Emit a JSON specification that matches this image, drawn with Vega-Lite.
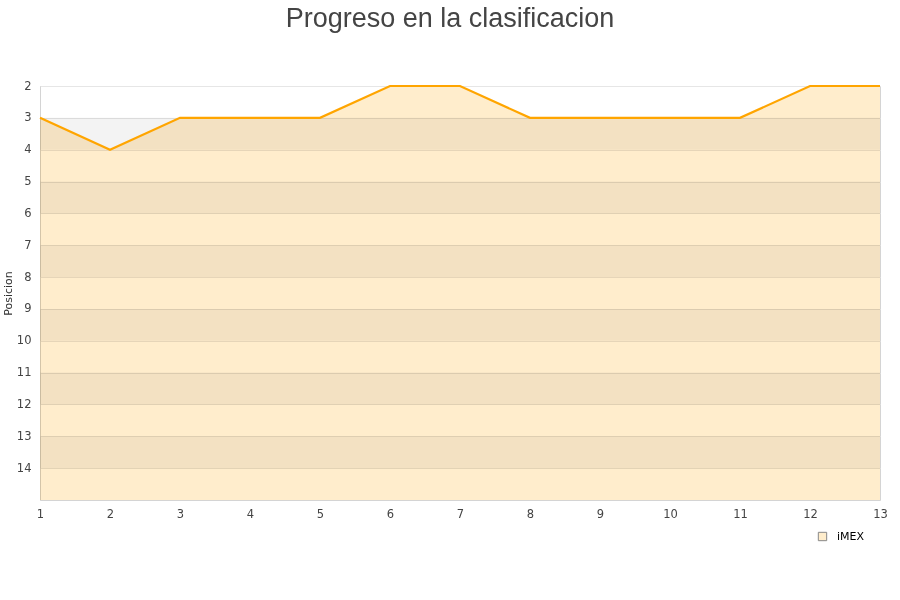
{
  "$schema": "https://vega.github.io/schema/vega-lite/v6.json",
  "width": 840,
  "height": 414,
  "autosize": "none",
  "padding": {"left": 40, "top": 86, "right": 20, "bottom": 100},
  "background": "white",
  "config": {
    "font": "DejaVu Sans",
    "view": {"stroke": "#d4d4d4", "strokeWidth": 1},
    "axis": {"labelFont": "DejaVu Sans", "labelFontSize": 11.5, "labelColor": "#444", "titleFont": "DejaVu Sans", "titleFontSize": 11, "titleFontWeight": "normal", "titleColor": "#333", "domainColor": "#d4d4d4", "gridColor": "#e6e6e6", "ticks": false, "labelOverlap": false, "labelFlush": false, "zindex": 0}
  },
  "title": {"text": "Progreso en la clasificacion", "font": "Liberation Sans", "fontSize": 27, "fontWeight": "normal", "color": "#444", "anchor": "middle", "dx": -10, "offset": 47},
  "datasets": {
    "bands": [
      {"b0": 3, "b1": 4}, {"b0": 5, "b1": 6}, {"b0": 7, "b1": 8},
      {"b0": 9, "b1": 10}, {"b0": 11, "b1": 12}, {"b0": 13, "b1": 14}
    ],
    "serie": [
      {"jornada": 1, "pos": 3, "equipo": "iMEX"},
      {"jornada": 2, "pos": 4, "equipo": "iMEX"},
      {"jornada": 3, "pos": 3, "equipo": "iMEX"},
      {"jornada": 4, "pos": 3, "equipo": "iMEX"},
      {"jornada": 5, "pos": 3, "equipo": "iMEX"},
      {"jornada": 6, "pos": 2, "equipo": "iMEX"},
      {"jornada": 7, "pos": 2, "equipo": "iMEX"},
      {"jornada": 8, "pos": 3, "equipo": "iMEX"},
      {"jornada": 9, "pos": 3, "equipo": "iMEX"},
      {"jornada": 10, "pos": 3, "equipo": "iMEX"},
      {"jornada": 11, "pos": 3, "equipo": "iMEX"},
      {"jornada": 12, "pos": 2, "equipo": "iMEX"},
      {"jornada": 13, "pos": 2, "equipo": "iMEX"}
    ]
  },
  "layer": [
    {
      "data": {"name": "bands"},
      "mark": {"type": "rect", "fill": "#f3f3f3", "strokeWidth": 0, "blend": "multiply"},
      "encoding": {
        "y": {"field": "b0", "type": "quantitative", "scale": {"domain": [2, 15], "reverse": true, "nice": false, "zero": false}, "axis": {"values": [2,3,4,5,6,7,8,9,10,11,12,13,14], "format": "d", "title": "Posicion", "titlePadding": 3, "labelPadding": 9, "grid": true, "domain": true, "labelOverlap": false, "labelFlush": false}},
        "y2": {"field": "b1"}
      }
    },
    {
      "data": {"name": "serie"},
      "mark": {"type": "area", "fillOpacity": 1, "blend": "multiply"},
      "encoding": {
        "x": {"field": "jornada", "type": "quantitative", "scale": {"domain": [1, 13], "nice": false, "zero": false}, "axis": {"values": [1,2,3,4,5,6,7,8,9,10,11,12,13], "format": "d", "title": null, "grid": false, "domain": false, "labelPadding": 8, "labelOverlap": false, "labelFlush": false}},
        "y": {"field": "pos", "type": "quantitative", "axis": {"values": [2,3,4,5,6,7,8,9,10,11,12,13,14], "format": "d", "title": "Posicion", "titlePadding": 3, "labelPadding": 9, "grid": true, "domain": true, "labelOverlap": false, "labelFlush": false}},
        "y2": {"datum": 15},
        "fill": {"field": "equipo", "type": "nominal", "scale": {"range": ["#ffedcc"]}, "legend": {"title": null, "orient": "none", "legendX": 777, "legendY": 445, "symbolType": "square", "symbolSize": 70, "symbolStrokeColor": "#888", "symbolStrokeWidth": 1, "labelOffset": 9, "labelFontSize": 11, "labelColor": "#000", "labelFont": "DejaVu Sans"}}
      }
    },
    {
      "data": {"name": "serie"},
      "mark": {"type": "line", "color": "#ffa500", "strokeWidth": 2.2},
      "encoding": {
        "x": {"field": "jornada", "type": "quantitative", "axis": {"values": [1,2,3,4,5,6,7,8,9,10,11,12,13], "format": "d", "title": null, "grid": false, "domain": false, "labelPadding": 8, "labelOverlap": false, "labelFlush": false}},
        "y": {"field": "pos", "type": "quantitative", "axis": {"values": [2,3,4,5,6,7,8,9,10,11,12,13,14], "format": "d", "title": "Posicion", "titlePadding": 3, "labelPadding": 9, "grid": true, "domain": true, "labelOverlap": false, "labelFlush": false}}
      }
    }
  ]
}
